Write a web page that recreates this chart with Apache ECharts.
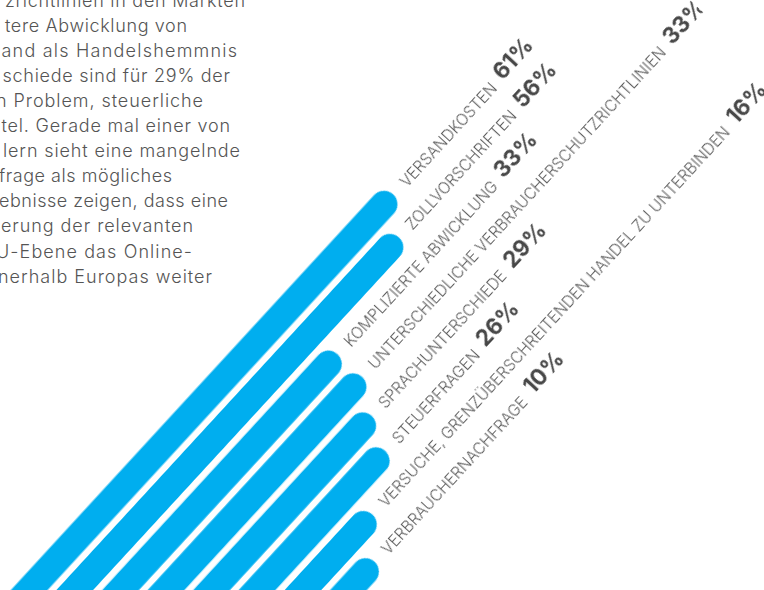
<!DOCTYPE html>
<html>
<head>
<meta charset="utf-8">
<script src="https://cdn.jsdelivr.net/npm/echarts@6/dist/echarts.min.js"></script>
<style>
  html, body { margin: 0; padding: 0; background: #ffffff; }
  #stage { position: relative; width: 764px; height: 590px; overflow: hidden; background: #ffffff; }
  #para { position: absolute; left: 0; top: 0; font-family: Inter, "Open Sans", sans-serif; font-weight: 300; font-size: 18px; color: #555555; }
  #para span { position: absolute; white-space: pre; line-height: 25px; display: inline-block; }
  #chart { position: absolute; left: -53.98px; top: 620.11px; width: 960px; height: 320px; transform-origin: 0 0; transform: rotate(-47.4deg); }
</style>
</head>
<body>
<div id="stage">
  <div id="para"></div>
  <div id="chart"></div>
</div>
<script>
// ---- data ----
const categories = [
  'VERSANDKOSTEN',
  'ZOLLVORSCHRIFTEN',
  'KOMPLIZIERTE ABWICKLUNG',
  'UNTERSCHIEDLICHE VERBRAUCHERSCHUTZRICHTLINIEN',
  'SPRACHUNTERSCHIEDE',
  'STEUERFRAGEN',
  'VERSUCHE, GRENZÜBERSCHREITENDEN HANDEL ZU UNTERBINDEN',
  'VERBRAUCHERNACHFRAGE'
];
const values = [61, 56, 33, 33, 29, 26, 16, 10];
const paragraphLines = [
  'zrichtlinien in den Märkten',
  'tere Abwicklung von',
  'and als Handelshemmnis',
  'schiede sind für 29% der',
  'n Problem, steuerliche',
  'tel. Gerade mal einer von',
  'lern sieht eine mangelnde',
  'frage als mögliches',
  'ebnisse zeigen, dass eine',
  'erung der relevanten',
  'U-Ebene das Online-',
  'nerhalb Europas weiter'
];

// ---- layout of the cropped paragraph (left / right edge of each line) ----
const lineStart = [5, 5, 1.5, 2.5, -4, 1.5, 3, -1, -1, 1, -4, -2];
const lineEnd   = [245, 187, 237, 230, 203, 230, 240, 172, 228, 193, 192, 212];

const para = document.getElementById('para');
const spans = paragraphLines.map((t, i) => {
  const s = document.createElement('span');
  s.textContent = t;
  s.style.left = lineStart[i] + 'px';
  s.style.top = (-12.5 + 25.1 * i) + 'px';
  para.appendChild(s);
  return s;
});
const ctx = document.createElement('canvas').getContext('2d');
function fitLines() {
  ctx.font = '300 18px Inter';
  spans.forEach((s, i) => {
    const t = paragraphLines[i];
    const w = ctx.measureText(t).width;
    const ls = (lineEnd[i] - lineStart[i] - w) / Math.max(1, t.length - 1);
    s.style.letterSpacing = ls.toFixed(3) + 'px';
  });
}
fitLines();

// ---- chart (drawn in a rotated frame) ----
const chart = echarts.init(document.getElementById('chart'), null, { renderer: 'canvas' });
chart.setOption({
  animation: false,
  grid: { left: 0, right: 0, top: 24.2, height: 268.6 },
  xAxis: { type: 'value', min: -50, max: 123, startValue: -50, show: false },
  yAxis: { type: 'category', data: categories, inverse: true, show: false },
  series: [{
    type: 'bar',
    data: values,
    barWidth: 27,
    itemStyle: { color: '#00AEEF', borderRadius: [0, 13.5, 13.5, 0] },
    label: {
      show: true,
      position: 'right',
      distance: 14,
      offset: [0, -4],
      formatter: p => '{a|' + p.name + '}{s| }{b|' + p.value + '%}',
      rich: {
        a: { fontFamily: 'Inter', fontWeight: 300, fontSize: 15.5, color: '#5e5e5e', lineHeight: 18, verticalAlign: 'bottom' },
        s: { fontSize: 14, width: 9, lineHeight: 18, verticalAlign: 'bottom' },
        b: { fontFamily: 'Inter', fontWeight: 700, fontSize: 22.5, color: '#474747', lineHeight: 26, verticalAlign: 'bottom' }
      }
    }
  }]
});
</script>
</body>
</html>
